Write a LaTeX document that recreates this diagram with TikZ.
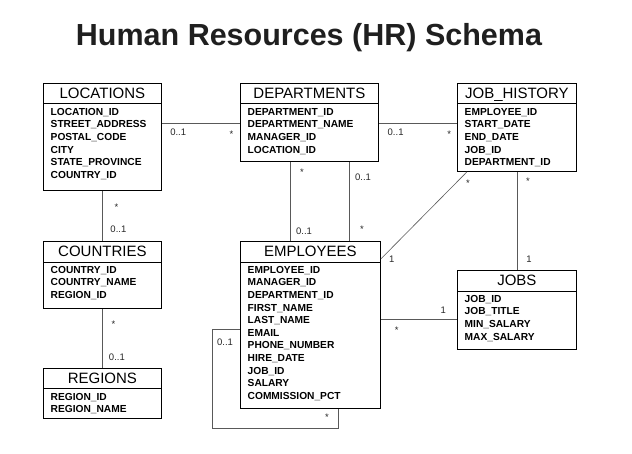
\documentclass[tikz,border=0pt]{standalone}
\usepackage{fontspec}
\setmainfont{Liberation Sans}
\usetikzlibrary{calc}

\begin{document}
\begin{tikzpicture}[x=1pt, y=-1pt,
  entbox/.style={draw=black, line width=0.8pt, anchor=north west, inner sep=0pt},
  enthead/.style={anchor=base, inner sep=0pt, font=\fontsize{15}{18}\selectfont},
  entattr/.style={anchor=north west, inner sep=0pt, align=left,
    font=\bfseries\fontsize{10.2}{12.6}\selectfont},
  divline/.style={line width=0.8pt},
  rel/.style={draw=black!65, line width=0.6pt},
  mult/.style={inner sep=0pt, font=\fontsize{9.5}{11}\selectfont, text=black!85}]
  \useasboundingbox (0,0) rectangle (632,454);

  \node[anchor=base, inner sep=0pt, font=\bfseries\fontsize{30.5}{36}\selectfont, text=black!88]
    (title) at (309,46) {Human Resources (HR) Schema};

  % tables
  \node[entbox, minimum width=118, minimum height=107] (loc) at (43,83) {};
  \node[enthead] (loc-h) at ([yshift=-15.5]loc.north) {LOCATIONS};
  \draw[divline] ([yshift=-20]loc.north west) -- ([yshift=-20]loc.north east);
  \node[entattr] (loc-a) at ([xshift=7.5,yshift=-25]loc.north west)
    {LOCATION\_ID\\STREET\_ADDRESS\\POSTAL\_CODE\\CITY\\STATE\_PROVINCE\\COUNTRY\_ID};

  \node[entbox, minimum width=138, minimum height=78] (dept) at (240,83) {};
  \node[enthead] (dept-h) at ([yshift=-15.5]dept.north) {DEPARTMENTS};
  \draw[divline] ([yshift=-20]dept.north west) -- ([yshift=-20]dept.north east);
  \node[entattr] (dept-a) at ([xshift=7.5,yshift=-25]dept.north west)
    {DEPARTMENT\_ID\\DEPARTMENT\_NAME\\MANAGER\_ID\\LOCATION\_ID};

  \node[entbox, minimum width=119, minimum height=88] (jhist) at (457,83) {};
  \node[enthead] (jhist-h) at ([yshift=-15.5]jhist.north) {JOB\_HISTORY};
  \draw[divline] ([yshift=-20]jhist.north west) -- ([yshift=-20]jhist.north east);
  \node[entattr] (jhist-a) at ([xshift=7.5,yshift=-25]jhist.north west)
    {EMPLOYEE\_ID\\START\_DATE\\END\_DATE\\JOB\_ID\\DEPARTMENT\_ID};

  \node[entbox, minimum width=118, minimum height=67] (ctry) at (43,241) {};
  \node[enthead] (ctry-h) at ([yshift=-15.5]ctry.north) {COUNTRIES};
  \draw[divline] ([yshift=-21]ctry.north west) -- ([yshift=-21]ctry.north east);
  \node[entattr] (ctry-a) at ([xshift=7.5,yshift=-25]ctry.north west)
    {COUNTRY\_ID\\COUNTRY\_NAME\\REGION\_ID};

  \node[entbox, minimum width=118, minimum height=50] (reg) at (43,368) {};
  \node[enthead] (reg-h) at ([yshift=-15.5]reg.north) {REGIONS};
  \draw[divline] ([yshift=-20]reg.north west) -- ([yshift=-20]reg.north east);
  \node[entattr] (reg-a) at ([xshift=7.5,yshift=-25]reg.north west)
    {REGION\_ID\\REGION\_NAME};

  \node[entbox, minimum width=140, minimum height=167] (emp) at (240,241) {};
  \node[enthead] (emp-h) at ([yshift=-15.5]emp.north) {EMPLOYEES};
  \draw[divline] ([yshift=-21]emp.north west) -- ([yshift=-21]emp.north east);
  \node[entattr] (emp-a) at ([xshift=7.5,yshift=-25]emp.north west)
    {EMPLOYEE\_ID\\MANAGER\_ID\\DEPARTMENT\_ID\\FIRST\_NAME\\LAST\_NAME\\EMAIL\\
     PHONE\_NUMBER\\HIRE\_DATE\\JOB\_ID\\SALARY\\COMMISSION\_PCT};

  \node[entbox, minimum width=119, minimum height=79] (jobs) at (457,270) {};
  \node[enthead] (jobs-h) at ([yshift=-15.5]jobs.north) {JOBS};
  \draw[divline] ([yshift=-21]jobs.north west) -- ([yshift=-21]jobs.north east);
  \node[entattr] (jobs-a) at ([xshift=7.5,yshift=-25]jobs.north west)
    {JOB\_ID\\JOB\_TITLE\\MIN\_SALARY\\MAX\_SALARY};

  % relations
  \draw[rel] ([yshift=-40]loc.north east) -- ([yshift=-40]dept.north west)
    node[mult, pos=0.21, yshift=-9] {0..1}
    node[mult, pos=0.89, yshift=-11] {*};
  \draw[rel] ([yshift=-40]dept.north east) -- ([yshift=-40]jhist.north west)
    node[mult, pos=0.215, yshift=-9] {0..1}
    node[mult, pos=0.9, yshift=-11] {*};
  \draw[rel] (loc.south) -- (ctry.north)
    node[mult, pos=0.29, xshift=14, yshift=-2] {*}
    node[mult, pos=0.77, xshift=16] {0..1};
  \draw[rel] (ctry.south) -- (reg.north)
    node[mult, pos=0.22, xshift=11, yshift=-2] {*}
    node[mult, pos=0.82, xshift=14.5] {0..1};
  \draw[rel] ([xshift=50]dept.south west) -- ([xshift=50]emp.north west)
    node[mult, pos=0.11, xshift=12, yshift=-2] {*}
    node[mult, pos=0.875, xshift=14] {0..1};
  \draw[rel] ([xshift=109]dept.south west) -- ([xshift=109]emp.north west)
    node[mult, pos=0.19, xshift=14] {0..1}
    node[mult, pos=0.825, xshift=13, yshift=-2] {*};
  \draw[rel] ([xshift=10]jhist.south west) -- ([yshift=-18]emp.north east)
    node[mult, pos=0, xshift=1, yshift=-11] {*}
    node[mult, pos=1, xshift=11] {1};
  \draw[rel] ([xshift=60]jhist.south west) -- ([xshift=60]jobs.north west)
    node[mult, pos=0.08, xshift=11, yshift=-2] {*}
    node[mult, pos=0.89, xshift=12] {1};
  \draw[rel] ([yshift=-78]emp.north east) -- ([yshift=-49]jobs.north west)
    node[mult, pos=0.82, yshift=9] {1}
    node[mult, pos=0.21, yshift=-11] {*};

  % manager of employee
  \coordinate (loopc) at (212,428);
  \draw[rel] ([yshift=-88]emp.north west) node[mult, xshift=-15, yshift=-13] {0..1}
    -| (loopc) -| ([xshift=98]emp.south west) node[mult, xshift=-11, yshift=-8] {*};
\end{tikzpicture}
\end{document}
